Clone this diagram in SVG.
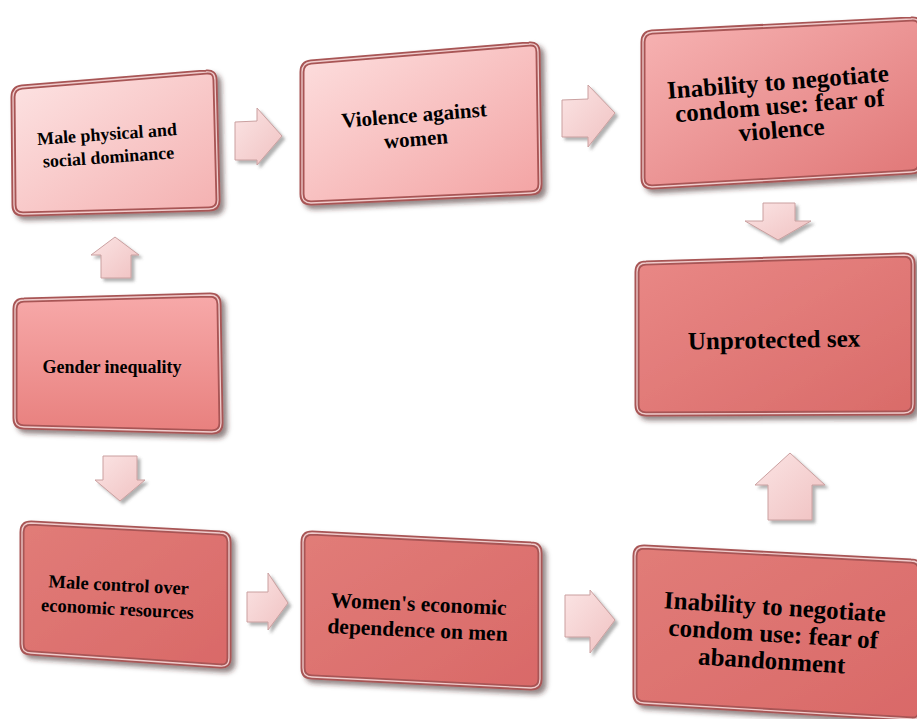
<svg xmlns="http://www.w3.org/2000/svg" width="917" height="719" viewBox="0 0 917 719">
<defs>
<linearGradient id="g1" x1="0" y1="0" x2="1" y2="1"><stop offset="0" stop-color="#fde4e4"/><stop offset="1" stop-color="#f4b0b0"/></linearGradient>
<linearGradient id="g2" x1="0" y1="0" x2="1" y2="1"><stop offset="0" stop-color="#fde0e0"/><stop offset="1" stop-color="#f3a2a2"/></linearGradient>
<linearGradient id="g3" x1="0" y1="0" x2="1" y2="1"><stop offset="0" stop-color="#f7b4b4"/><stop offset="1" stop-color="#e07676"/></linearGradient>
<linearGradient id="g4" x1="0" y1="0" x2="1" y2="1"><stop offset="0" stop-color="#e98886"/><stop offset="1" stop-color="#d96b69"/></linearGradient>
<linearGradient id="g5" x1="0" y1="0" x2="0" y2="1"><stop offset="0" stop-color="#f7a9a9"/><stop offset="1" stop-color="#e8807e"/></linearGradient>
<linearGradient id="g6" x1="0" y1="0" x2="1" y2="1"><stop offset="0" stop-color="#e17c78"/><stop offset="1" stop-color="#d96968"/></linearGradient>
<linearGradient id="ga" x1="0" y1="0" x2="1" y2="1"><stop offset="0" stop-color="#fbe4e4"/><stop offset="1" stop-color="#f0c2c2"/></linearGradient>
<filter id="sh" x="-10%" y="-10%" width="125%" height="130%"><feDropShadow dx="4" dy="4" stdDeviation="2.5" flood-color="#3a2020" flood-opacity="0.55"/></filter>
<filter id="ash" x="-20%" y="-20%" width="150%" height="150%"><feDropShadow dx="3" dy="3" stdDeviation="1.5" flood-color="#555" flood-opacity="0.45"/></filter>
</defs>
<style>
.box{stroke:#a85555;stroke-width:5;filter:url(#sh)}
.hl{fill:none;stroke:#fbe2e2;stroke-width:1.3;stroke-opacity:0.85}
.arr{fill:url(#ga);stroke:#caa0a0;stroke-width:1;filter:url(#ash)}
text{font-family:"Liberation Serif","Times New Roman",serif;font-weight:bold;fill:#000;text-anchor:middle}
</style>
<g id="connectors">
<polygon class="arr" points="235,122 257,121 257,108 282,136 257,165 257,160 235,160"/>
<polygon class="arr" points="562,100 588,99 588,85 615,113 588,147 588,137 562,137"/>
<polygon class="arr" points="763,203 795,203 795,221 811,221 778,240 745,221 763,221"/>
<polygon class="arr" points="101,278 101,255 91,255 115,237 139,255 131,255 131,278"/>
<polygon class="arr" points="103,456 137,456 137,480 145,480 120,501 95,480 103,480"/>
<polygon class="arr" points="247,592 268,592 268,573 288,603 268,630 268,622 247,622"/>
<polygon class="arr" points="565,595 590,595 590,590 615,620 590,653 590,637 565,637"/>
<polygon class="arr" points="768,520 768,485 755,485 790,453 825,485 812,485 812,520"/>
</g>
<g id="n1">
<path class="box" fill="url(#g1)" d="M22,87 L206,72 Q215,71 215,80 L218,200 Q218,209 209,209 L23,214 Q14,214 14,205 L13,97 Q13,88 22,87 Z"/>
<path class="hl" d="M22,87 L206,72 Q215,71 215,80 L218,200 Q218,209 209,209 L23,214 Q14,214 14,205 L13,97 Q13,88 22,87 Z"/>
<g transform="rotate(-4 108 150)"><text x="108" y="140" font-size="18">Male physical and</text><text x="108" y="163" font-size="18">social dominance</text></g>
</g>
<g id="n2">
<path class="box" fill="url(#g2)" d="M311,62 L529,44 Q538,43 538,52 L540,184 Q540,193 531,193 L311,203 Q302,203 302,194 L302,72 Q302,63 311,62 Z"/>
<path class="hl" d="M311,62 L529,44 Q538,43 538,52 L540,184 Q540,193 531,193 L311,203 Q302,203 302,194 L302,72 Q302,63 311,62 Z"/>
<g transform="rotate(-4.5 415 128)"><text x="415" y="122" font-size="21">Violence against</text><text x="415" y="146" font-size="21">women</text></g>
</g>
<g id="n3">
<path class="box" fill="url(#g3)" d="M652,32 L911,19 Q920,18 920,27 L920,163 Q920,172 911,172 L652,187 Q643,187 643,178 L643,42 Q643,33 652,32 Z"/>
<path class="hl" d="M652,32 L911,19 Q920,18 920,27 L920,163 Q920,172 911,172 L652,187 Q643,187 643,178 L643,42 Q643,33 652,32 Z"/>
<g transform="rotate(-4.5 780 110)"><text x="780" y="90" font-size="25">Inability to negotiate</text><text x="780" y="114" font-size="25">condom use: fear of</text><text x="780" y="138" font-size="25">violence</text></g>
</g>
<g id="n4">
<path class="box" fill="url(#g4)" d="M646,263 L904,255 Q913,255 913,264 L913,404 Q913,413 904,413 L646,414 Q637,414 637,405 L637,272 Q637,263 646,263 Z"/>
<path class="hl" d="M646,263 L904,255 Q913,255 913,264 L913,404 Q913,413 904,413 L646,414 Q637,414 637,405 L637,272 Q637,263 646,263 Z"/>
<g transform="rotate(-1 774 340)"><text x="774" y="348" font-size="25">Unprotected sex</text></g>
</g>
<g id="n5">
<path class="box" fill="url(#g5)" d="M24,300 L210,295 Q219,295 219,304 L221,423 Q221,432 212,432 L24,427 Q15,427 15,418 L15,309 Q15,300 24,300 Z"/>
<path class="hl" d="M24,300 L210,295 Q219,295 219,304 L221,423 Q221,432 212,432 L24,427 Q15,427 15,418 L15,309 Q15,300 24,300 Z"/>
<text x="112" y="373" font-size="18">Gender inequality</text>
</g>
<g id="n6">
<path class="box" fill="url(#g6)" d="M31,523 L220,533 Q229,533 229,542 L229,658 Q229,667 220,666 L31,653 Q22,653 22,644 L22,532 Q22,523 31,523 Z"/>
<path class="hl" d="M31,523 L220,533 Q229,533 229,542 L229,658 Q229,667 220,666 L31,653 Q22,653 22,644 L22,532 Q22,523 31,523 Z"/>
<g transform="rotate(3 118 600)"><text x="118" y="591" font-size="18.5">Male control over</text><text x="118" y="615" font-size="18.5">economic resources</text></g>
</g>
<g id="n7">
<path class="box" fill="url(#g6)" d="M312,533 L531,544 Q540,544 540,553 L540,679 Q540,688 531,688 L312,677 Q303,677 303,668 L303,542 Q303,533 312,533 Z"/>
<path class="hl" d="M312,533 L531,544 Q540,544 540,553 L540,679 Q540,688 531,688 L312,677 Q303,677 303,668 L303,542 Q303,533 312,533 Z"/>
<g transform="rotate(2.5 418 620)"><text x="418" y="611" font-size="21.5">Women's economic</text><text x="418" y="637" font-size="21.5">dependence on men</text></g>
</g>
<g id="n8">
<path class="box" fill="url(#g6)" d="M644,547 L911,561 Q920,561 920,570 L920,711 Q920,720 911,719 L644,703 Q635,703 635,694 L635,556 Q635,547 644,547 Z"/>
<path class="hl" d="M644,547 L911,561 Q920,561 920,570 L920,711 Q920,720 911,719 L644,703 Q635,703 635,694 L635,556 Q635,547 644,547 Z"/>
<g transform="rotate(3.5 773 640)"><text x="773" y="615" font-size="25">Inability to negotiate</text><text x="773" y="642" font-size="25">condom use: fear of</text><text x="773" y="669" font-size="25">abandonment</text></g>
</g>
</svg>
